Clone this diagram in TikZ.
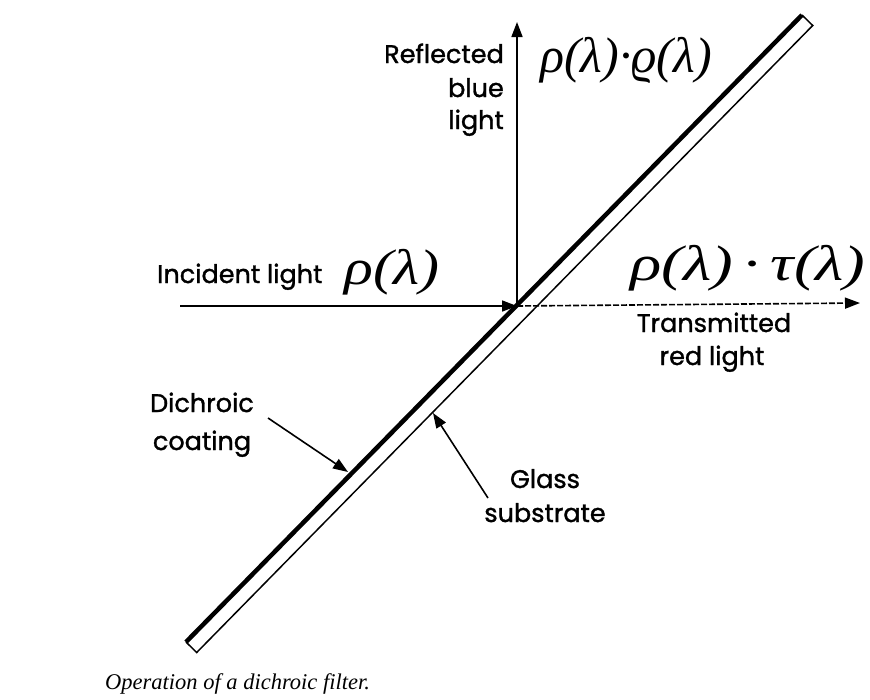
\documentclass[tikz,border=0pt]{standalone}
\usepackage{fontspec}
\setmainfont{Poppins}
\newfontfamily\labfont{Poppins}[FakeBold=1.3]
\newfontfamily\handfont{Liberation Serif}
\newfontfamily\capfont{Liberation Serif}
\usetikzlibrary{arrows.meta}
\tikzset{
  lab/.style={font=\labfont\fontsize{25.5}{34}\selectfont, inner sep=0pt, anchor=base},
  hand/.style={font=\handfont\itshape\fontsize{50}{50}\selectfont, inner sep=0pt},
  ray/.style={line width=1.6pt, -{Triangle[length=15pt,width=11pt]}},
  pointer/.style={line width=1.6pt, -{Triangle[length=15pt,width=11pt]}},
  glass/.style={line width=1.5pt, line join=miter},
  coating/.style={line width=4.5pt, line cap=butt}
}
\begin{document}
\begin{tikzpicture}[x=1pt,y=-1pt]
\useasboundingbox (0,0) rectangle (870,699);
% filter
\coordinate (D) at (186,642);
\coordinate (A) at (802,15);
\coordinate (B) at (812.7,25.5);
\coordinate (C) at (196.7,652.5);
\draw[glass] (A) -- (B) -- (C) -- (D);
\draw[coating] (D) -- (A);
% rays
\coordinate (P) at (517,306);
\coordinate (inc) at (180,306);
\coordinate (refl) at (517,22);
\coordinate (trans) at (860,303);
\draw[ray] (inc) -- (P);
\draw[ray] (P) -- (refl);
\draw[ray, dash pattern=on 6pt off 2pt] (P) -- (trans);
% labels
\node[lab, anchor=base east] (ref1) at (504,63) {Reflected};
\node[lab, anchor=base east] (ref2) at (504,97) {blue};
\node[lab, anchor=base east] (ref3) at (504,129) {light};
\node[lab, anchor=base west] (inclab) at (157,283) {Incident light};
\node[lab] (tr1) at (714,332) {Transmitted};
\node[lab] (tr2) at (712,365) {red light};
\node[lab] (di1) at (202,412) {Dichroic};
\node[lab] (di2) at (202,450) {coating};
\node[lab] (gl1) at (545,488) {Glass};
\node[lab] (gl2) at (545,522) {substrate};
% formulas
\node[hand, xscale=1.2] (f1) at (392,272) {ρ(λ)};
\node[hand] (f2) at (626,60) {ρ(λ)·ϱ(λ)};
\node[hand, xscale=1.3] (f3) at (748,268) {ρ(λ)\,·\,τ(λ)};
% pointers
\coordinate (dtip) at (348,472);
\coordinate (dstart) at (268,418);
\coordinate (gtip) at (433,413);
\coordinate (gstart) at (488,498);
\draw[pointer] (dstart) -- (dtip);
\draw[pointer] (gstart) -- (gtip);
% caption
\node[font=\capfont\itshape\fontsize{22.5}{22.5}\selectfont, anchor=base west, inner sep=0pt] (cap) at (105,689) {Operation of a dichroic filter.};
\end{tikzpicture}
\end{document}
